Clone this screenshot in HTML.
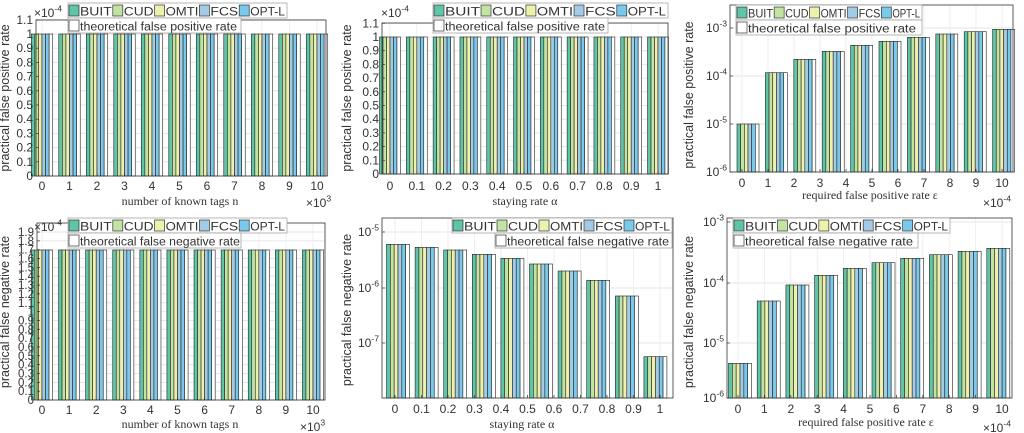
<!DOCTYPE html>
<html><head><meta charset="utf-8"><style>
html,body{margin:0;padding:0;background:#fff;width:1024px;height:433px;overflow:hidden}
svg{display:block}
text{font-family:"Liberation Sans",sans-serif;fill:#333}
.s{font-family:"Liberation Serif",serif}
</style></head><body>
<svg id="c" width="1024" height="433" xmlns="http://www.w3.org/2000/svg"></svg>
<script>
const NS="http://www.w3.org/2000/svg";
const svg=document.getElementById('c');
function el(t,a,txt){const e=document.createElementNS(NS,t);for(const k in a)e.setAttribute(k,a[k]);if(txt!==undefined)e.textContent=txt;svg.appendChild(e);return e;}
function tx(x,y,s,size,anchor,cls,sup,rot){
  const e=el('text',{x:x,y:y,'font-size':size,'text-anchor':anchor||'middle'});
  if(cls)e.setAttribute('class',cls);
  if(rot)e.setAttribute('transform','rotate(-90 '+x+' '+y+')');
  const t1=document.createElementNS(NS,'tspan');t1.textContent=s;e.appendChild(t1);
  if(sup){const t2=document.createElementNS(NS,'tspan');t2.setAttribute('dy',-size*0.45);t2.setAttribute('font-size',size*0.72);t2.textContent=sup;e.appendChild(t2);}
  return e;
}
const COLS=['#5fc4a8','#c3e3a3','#eef1ac','#a4cbe6','#78c9ea','#ffffff'];
const NAMES=['BUIT','CUD','OMTI','FCS','OPT-L'];
function panel(o){
  o.yt.forEach(t=>{el('line',{x1:o.L,x2:o.R,y1:t[0],y2:t[0],stroke:'#e6e6e6','stroke-width':1});});
  for(let i=0;i<11;i++){const cx=o.c0+o.dc*i;el('line',{x1:cx,x2:cx,y1:o.T,y2:o.B,stroke:'#eeeeee','stroke-width':1});}
  const nb=o.tops.length, bc0=o.bc0!==undefined?o.bc0:o.c0, bdc=o.bdc||o.dc;
  const gw=(o.gw||o.dc*0.78),bw=gw/6;
  for(let i=0;i<nb;i++){
    const cx=bc0+bdc*i, top=o.tops[i];
    for(let j=0;j<6;j++){
      el('rect',{x:cx-gw/2+j*bw,y:top,width:bw,height:o.B-top,fill:COLS[j],stroke:'#222','stroke-width':0.6});
    }
  }
  el('rect',{x:o.L,y:o.T,width:o.R-o.L,height:o.B-o.T,fill:'none',stroke:'#333','stroke-width':0.8});
  o.yt.forEach(t=>{el('line',{x1:o.L,x2:o.L+3,y1:t[0],y2:t[0],stroke:'#333','stroke-width':0.7});
    tx(o.L-3,t[0]+4,t[1],o.yfs||12,'end',null,t[2]);});
  for(let i=0;i<11;i++){const cx=o.c0+o.dc*i;el('line',{x1:cx,x2:cx,y1:o.B,y2:o.B-3,stroke:'#333','stroke-width':0.7});
    tx(cx,o.tickY,o.xl[i],12,'middle');}
  tx(o.xlX,o.xlY,o.xlabel,12,'middle','s');
  if(o.mult)tx(o.mult[0],o.mult[1],'×10',12,'start',null,o.mult[2]);
  tx(o.ylX,o.ylY,o.ylabel,12.5,'middle',null,null,true);
  const g=o.leg;
  el('rect',{x:g.x,y:g.y,width:g.w,height:15,fill:'#fff',stroke:'#999','stroke-width':0.7});
  el('rect',{x:g.x2,y:g.y+15,width:g.w2,height:15,fill:'#fff',stroke:'#999','stroke-width':0.7});
  const ws=[44,42,45,40,47],sc=(g.w-2)/218;let xx=g.x+1;
  for(let j=0;j<5;j++){
    el('rect',{x:xx,y:g.y+2,width:10,height:11,fill:COLS[j],stroke:'#333','stroke-width':0.7});
    const t=tx(xx+11,g.y+12.5,NAMES[j],11.5,'start');
    t.setAttribute('textLength',(ws[j]*sc-12).toFixed(1));t.setAttribute('lengthAdjust','spacingAndGlyphs');
    xx+=ws[j]*sc;
  }
  el('rect',{x:g.x2+1,y:g.y+17,width:10,height:11,fill:'#fff',stroke:'#333','stroke-width':0.7});
  const t2=tx(g.x2+12,g.y+27.5,g.t2,11.5,'start');
  t2.setAttribute('textLength',g.tl);t2.setAttribute('lengthAdjust','spacingAndGlyphs');
}
const nl=['0','1','2','3','4','5','6','7','8','9','10'];
const al=['0','0.1','0.2','0.3','0.4','0.5','0.6','0.7','0.8','0.9','1'];
function linT(y0,per,n){const a=[];for(let i=0;i<=n;i++){a.push([y0-per*i,i==0?'0':(i==10?'1':(i/10).toFixed(1))]);}return a;}
// P1
panel({L:36,R:326,T:20,B:176,c0:42,dc:27.5,tops:Array(11).fill(34),yt:linT(176,14.2,11),xl:nl,tickY:190,xlabel:'number of known tags n',xlX:180,xlY:205,mult:[306,207,'3'],ylabel:'practical false positive rate',ylX:9,ylY:98,
 leg:{x:68,y:3,w:219,x2:68,w2:173,t2:'theoretical false positive rate',tl:157}});
tx(34,17,'×10',12,'start',null,'-4');
// P2
panel({L:382,R:668,T:23,B:174,c0:390,dc:26.8,tops:Array(11).fill(37),yt:linT(174,13.7,11),xl:al,tickY:190,xlabel:'staying rate α',xlX:525,xlY:205,ylabel:'practical false positive rate',ylX:351,ylY:98,
 leg:{x:433,y:3,w:235,x2:433,w2:175,t2:'theoretical false positive rate',tl:160}});
tx(381,17,'×10',12,'start',null,'-4');
// P3
panel({L:730,R:1013,T:5,B:172,c0:742,dc:26,bc0:748,bdc:28.4,gw:22,tops:[124,72.7,59.3,51.3,45.3,41.3,37.3,34,31.7,29.3],
 yt:[[172,'10','-6'],[124,'10','-5'],[76,'10','-4'],[28,'10','-3']],xl:nl,tickY:187,xlabel:'required false positive rate ε',xlX:870,xlY:199,mult:[983,207,'-4'],ylabel:'practical false positive rate',ylX:693,ylY:95,
 leg:{x:736,y:5,w:186,x2:736,w2:186,t2:'theoretical false positive rate',tl:168}});
// P4
let t4=[];for(let i=0;i<=19;i++)t4.push([400-8.84*i,i==0?'0':(i==10?'1':(i/10).toFixed(1))]);
panel({L:37,R:325,T:223,B:400,c0:42,dc:27.1,tops:Array(11).fill(250),yt:t4,yfs:11.5,xl:nl,tickY:414,xlabel:'number of known tags n',xlX:180,xlY:428,mult:[300,431,'3'],ylabel:'practical false negative rate',ylX:9,ylY:312,
 leg:{x:68,y:218,w:219,x2:68,w2:173,t2:'theoretical false negative rate',tl:160}});
tx(34,231,'×10',12,'start',null,'-4');
// P5
panel({L:382,R:673,T:218,B:398,c0:395,dc:26.5,bc0:398,bdc:28.6,gw:23,tops:[244.3,247.3,250,254.3,258.3,264,271,280.3,296,356.7],
 yt:[[343,'10','-7'],[288,'10','-6'],[232,'10','-5']],xl:al,tickY:413,xlabel:'staying rate α',xlX:522,xlY:428,ylabel:'practical false negative rate',ylX:351,ylY:310,
 leg:{x:452,y:218,w:220,x2:495,w2:177,t2:'theoretical false negative rate',tl:162}});
// P6
panel({L:727,R:1012,T:218,B:398,c0:738,dc:26.4,bc0:740,bdc:28.7,gw:23,tops:[363.3,301,285,275.3,268.3,262.7,258.3,254.7,251.3,248.3],
 yt:[[398,'10','-6'],[343,'10','-5'],[283,'10','-4'],[222,'10','-3']],xl:nl,tickY:413,xlabel:'required false positive rate ε',xlX:866,xlY:426,mult:[983,432,'-4'],ylabel:'practical false negative rate',ylX:693,ylY:312,
 leg:{x:733,y:218,w:217,x2:733,w2:185,t2:'theoretical false negative rate',tl:168}});
</script>
</body></html>
